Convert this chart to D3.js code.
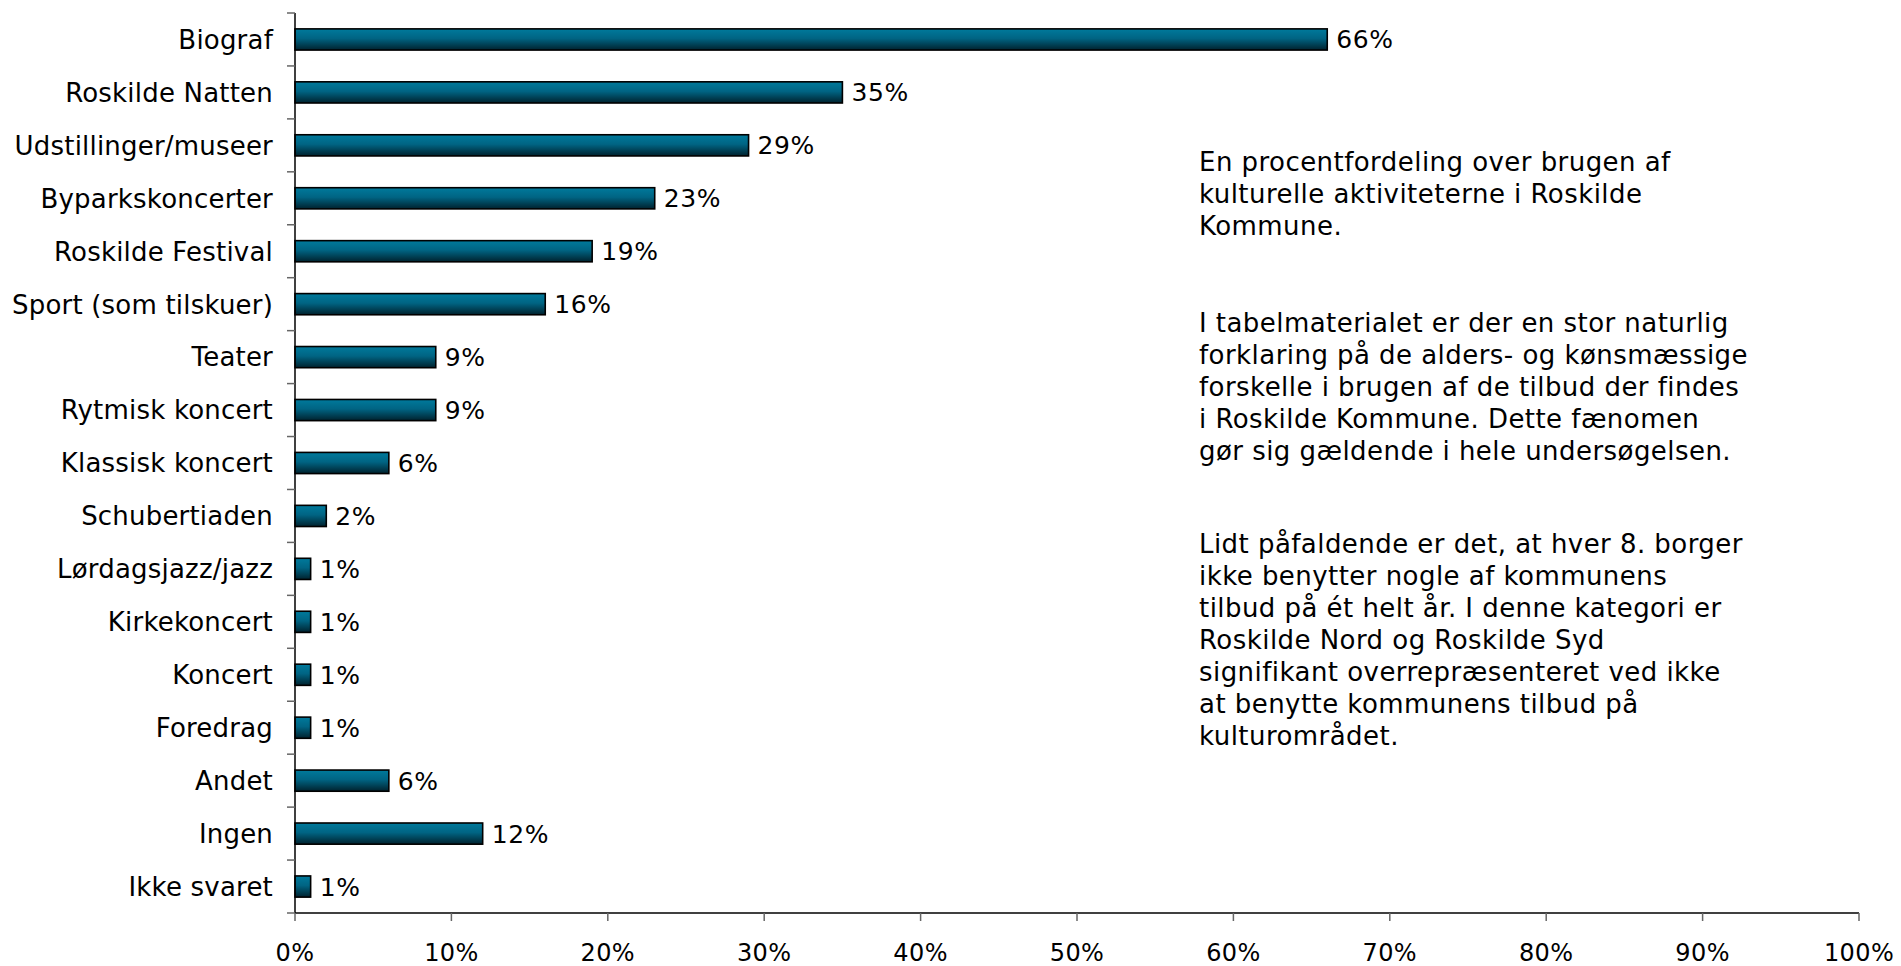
<!DOCTYPE html>
<html>
<head>
<meta charset="utf-8">
<script src="https://cdn.jsdelivr.net/npm/d3@7"></script>
<style>
  body { margin: 0; background: #fff; }
  svg { display: block; font-family: "DejaVu Sans", Verdana, sans-serif; }
</style>
</head>
<body>
<div id="chart"></div>
<script>
// categories, top to bottom
var categories = ["Biograf", "Roskilde Natten", "Udstillinger/museer", "Byparkskoncerter",
    "Roskilde Festival", "Sport (som tilskuer)", "Teater", "Rytmisk koncert",
    "Klassisk koncert", "Schubertiaden", "Lørdagsjazz/jazz", "Kirkekoncert",
    "Koncert", "Foredrag", "Andet", "Ingen", "Ikke svaret"];
var values = [66, 35, 29, 23, 19, 16, 9, 9, 6, 2, 1, 1, 1, 1, 6, 12, 1];
var xTicks = [0, 10, 20, 30, 40, 50, 60, 70, 80, 90, 100];

var notes = [
    ["En procentfordeling over brugen af", "kulturelle aktiviteterne i Roskilde", "Kommune."],
    ["I tabelmaterialet er der en stor naturlig", "forklaring på de alders- og kønsmæssige",
     "forskelle i brugen af de tilbud der findes", "i Roskilde Kommune. Dette fænomen",
     "gør sig gældende i hele undersøgelsen."],
    ["Lidt påfaldende er det, at hver 8. borger", "ikke benytter nogle af kommunens",
     "tilbud på ét helt år. I denne kategori er", "Roskilde Nord og Roskilde Syd",
     "signifikant overrepræsenteret ved ikke", "at benytte kommunens tilbud på",
     "kulturområdet."]
];
var noteTops = [171, 332, 553];

var W = 1901, H = 966;
var margin = {top: 13, right: 42, bottom: 53, left: 295},
    width = W - margin.left - margin.right,
    height = H - margin.top - margin.bottom;

var svg = d3.select("#chart")
    .append("svg")
    .attr("width", W)
    .attr("height", H);

var defs = svg.append("defs");
var grad = defs.append("linearGradient")
    .attr("id", "barGrad")
    .attr("x1", 0).attr("y1", 0).attr("x2", 0).attr("y2", 1);
grad.append("stop").attr("offset", "0%").attr("stop-color", "#007a9c");
grad.append("stop").attr("offset", "45%").attr("stop-color", "#006483");
grad.append("stop").attr("offset", "100%").attr("stop-color", "#00222e");

var g = svg.append("g")
    .attr("transform", "translate(" + margin.left + "," + margin.top + ")");

var x = d3.scaleLinear()
    .domain([0, 100])
    .range([0, width]);

var y = d3.scaleBand()
    .domain(categories)
    .range([0, height])
    .paddingInner(0.6)
    .paddingOuter(0.3);

var yEdge = d3.scaleLinear()
    .domain([0, categories.length])
    .range([0, height]);

// bars
g.selectAll("rect.bar")
    .data(values)
    .enter()
    .append("rect")
    .attr("class", "bar")
    .attr("x", x(0))
    .attr("y", function(d, i) { return y(categories[i]); })
    .attr("width", function(d) { return x(d) - x(0); })
    .attr("height", y.bandwidth())
    .attr("fill", "url(#barGrad)")
    .attr("stroke", "#000")
    .attr("stroke-width", 1.6);

// value labels
g.selectAll("text.val")
    .data(values)
    .enter()
    .append("text")
    .attr("class", "val")
    .attr("x", function(d) { return x(d) + 9; })
    .attr("y", function(d, i) { return y(categories[i]) + y.bandwidth() / 2; })
    .attr("dy", "0.36em")
    .style("font-size", "25px")
    .style("letter-spacing", "0.6px")
    .style("fill", "#000")
    .text(function(d) { return d + "%"; });

// y axis: line, ticks between categories, labels
g.append("line")
    .attr("x1", 0).attr("x2", 0)
    .attr("y1", 0).attr("y2", height)
    .attr("stroke", "#000").attr("stroke-width", 1.5);

g.selectAll("line.ytick")
    .data(d3.range(categories.length + 1))
    .enter()
    .append("line")
    .attr("class", "ytick")
    .attr("x1", -8).attr("x2", 0)
    .attr("y1", function(d) { return yEdge(d); })
    .attr("y2", function(d) { return yEdge(d); })
    .attr("stroke", "#666").attr("stroke-width", 1.5);

g.selectAll("text.cat")
    .data(categories)
    .enter()
    .append("text")
    .attr("class", "cat")
    .attr("x", -22)
    .attr("y", function(d) { return y(d) + y.bandwidth() / 2; })
    .attr("dy", "0.36em")
    .attr("text-anchor", "end")
    .style("font-size", "26px")
    .style("letter-spacing", "0.2px")
    .text(function(d) { return d; });

// x axis
g.append("line")
    .attr("x1", 0).attr("x2", width)
    .attr("y1", height).attr("y2", height)
    .attr("stroke", "#000").attr("stroke-width", 1.5);

g.selectAll("line.xtick")
    .data(xTicks)
    .enter()
    .append("line")
    .attr("class", "xtick")
    .attr("x1", function(d) { return x(d); })
    .attr("x2", function(d) { return x(d); })
    .attr("y1", height).attr("y2", height + 8)
    .attr("stroke", "#666").attr("stroke-width", 1.5);

g.selectAll("text.xlab")
    .data(xTicks)
    .enter()
    .append("text")
    .attr("class", "xlab")
    .attr("x", function(d) { return x(d); })
    .attr("y", height + 48)
    .attr("text-anchor", "middle")
    .style("font-size", "24px")
    .style("letter-spacing", "0.4px")
    .text(function(d) { return d + "%"; });

// annotation text
notes.forEach(function(lines, k) {
    svg.append("text")
        .attr("x", 1199)
        .attr("y", noteTops[k])
        .style("font-size", "26px")
        .style("letter-spacing", "0.45px")
        .selectAll("tspan")
        .data(lines)
        .enter()
        .append("tspan")
        .attr("x", 1199)
        .attr("dy", function(d, i) { return i === 0 ? 0 : 32; })
        .text(function(d) { return d; });
});
</script>
</body>
</html>
